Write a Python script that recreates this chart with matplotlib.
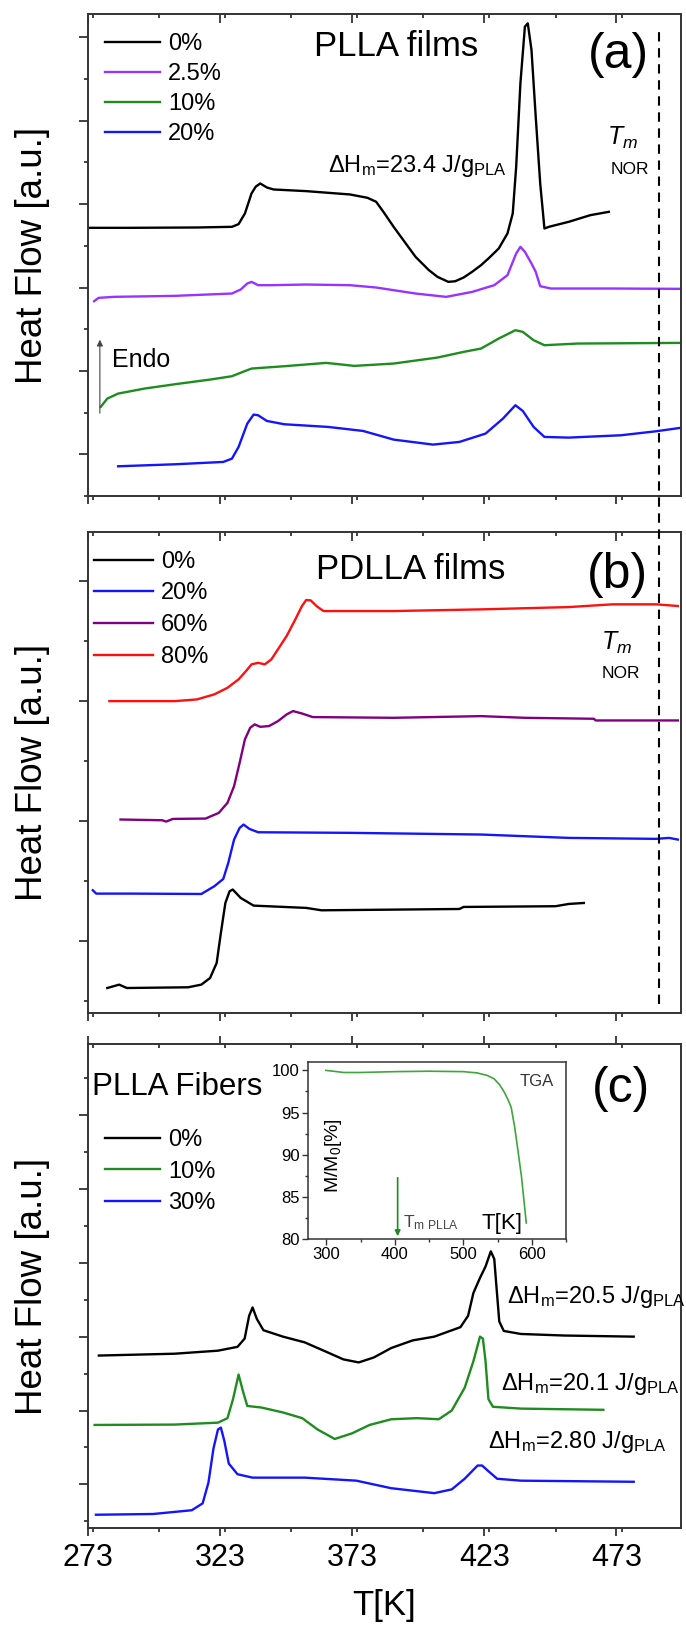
import numpy as np
import matplotlib
matplotlib.use('Agg')
import matplotlib.pyplot as plt
from matplotlib.ticker import MultipleLocator
from matplotlib.lines import Line2D

plt.rcParams['font.family'] = ['Liberation Sans', 'DejaVu Sans']
plt.rcParams['mathtext.fontset'] = 'custom'
plt.rcParams['mathtext.rm'] = 'Liberation Sans'
plt.rcParams['mathtext.it'] = 'Liberation Sans:italic'
plt.rcParams['mathtext.default'] = 'regular'

# ---- (a) PLLA films ----
a0_T = [273.0, 289.4, 314.2, 327.5, 330.0, 332.4, 334.9, 336.5, 338.2, 340.7, 343.2, 355.6, 372.2, 378.8,
        382.1, 385.0, 388.7, 397.0, 402.0, 405.3, 409.4, 412.0, 415.2, 418.5, 421.8, 425.0, 428.5, 431.8,
        433.8, 435.1, 436.7, 438.4, 439.5, 440.9, 442.5, 444.2, 445.8, 447.5, 455.0, 463.2, 470.2]
a0_H = [2.716, 2.716, 2.72, 2.728, 2.76, 2.888, 3.128, 3.21, 3.248, 3.20, 3.176, 3.156, 3.116, 3.076,
        3.028, 2.90, 2.728, 2.368, 2.21, 2.128, 2.068, 2.075, 2.12, 2.19, 2.268, 2.36, 2.468, 2.648,
        2.888, 3.448, 4.448, 5.128, 5.168, 4.848, 4.048, 3.248, 2.708, 2.728, 2.788, 2.868, 2.908]
a25_T = [275.3, 277.0, 282.8, 305.9, 327.5, 330.8, 333.3, 334.9, 337.4, 342.4, 355.6, 372.2, 382.1, 397.0,
         408.6, 418.5, 426.8, 431.8, 435.1, 436.7, 438.4, 440.9, 442.5, 444.2, 448.3, 471.5, 497.7]
a25_H = [1.836, 1.876, 1.888, 1.90, 1.928, 1.976, 2.048, 2.068, 2.028, 2.028, 2.036, 2.028, 2.0, 1.928,
         1.888, 1.948, 2.028, 2.148, 2.408, 2.488, 2.428, 2.288, 2.188, 2.016, 1.988, 1.988, 1.984]
a10_T = [277.8, 280.3, 284.4, 294.4, 305.9, 319.2, 327.5, 331.6, 334.9, 347.3, 363.1, 368.0, 373.8, 388.7,
         405.3, 415.2, 421.8, 428.5, 434.8, 437.6, 441.7, 445.8, 458.3, 497.7]
a10_H = [0.568, 0.668, 0.728, 0.788, 0.84, 0.896, 0.936, 0.988, 1.028, 1.056, 1.096, 1.08, 1.06, 1.088,
         1.16, 1.228, 1.268, 1.388, 1.488, 1.468, 1.368, 1.308, 1.328, 1.336]
a20_T = [284.4, 305.9, 324.2, 327.5, 330.0, 333.3, 335.7, 337.4, 340.7, 347.3, 363.9, 377.1, 388.7, 403.6,
         413.6, 423.5, 430.1, 434.8, 437.6, 441.7, 445.8, 455.0, 474.8, 488.1, 498.0]
a20_H = [-0.144, -0.12, -0.092, -0.052, 0.088, 0.368, 0.476, 0.468, 0.40, 0.36, 0.328, 0.28, 0.176, 0.116,
         0.148, 0.248, 0.428, 0.588, 0.52, 0.328, 0.208, 0.20, 0.228, 0.276, 0.32]

# ---- (b) PDLLA films ----
b0_T = [280.3, 284.8, 287.7, 310.9, 315.9, 319.2, 321.7, 323.3, 325.0, 326.6, 327.8, 330.8, 335.7, 355.6,
        361.4, 413.6, 415.2, 450.0, 455.0, 460.7]
b0_H = [-0.389, -0.361, -0.389, -0.383, -0.361, -0.306, -0.181, 0.069, 0.319, 0.417, 0.431, 0.361, 0.297,
        0.278, 0.258, 0.269, 0.286, 0.292, 0.311, 0.319]
b20_T = [274.8, 276.1, 289.4, 315.9, 320.8, 324.2, 326.1, 328.3, 330.4, 331.9, 334.1, 337.4, 372.2, 421.8,
         455.0, 488.1, 493.0, 496.3]
b20_H = [0.425, 0.397, 0.397, 0.394, 0.458, 0.519, 0.653, 0.847, 0.944, 0.972, 0.936, 0.908, 0.903, 0.889,
         0.861, 0.853, 0.861, 0.847]
b60_T = [285.3, 301.0, 302.6, 305.1, 317.5, 322.5, 325.8, 328.3, 330.4, 332.4, 334.4, 336.1, 338.2, 341.5,
         344.9, 348.2, 350.6, 354.0, 358.1, 388.7, 421.8, 438.4, 464.5, 465.2, 496.3]
b60_H = [1.014, 1.008, 0.997, 1.019, 1.022, 1.069, 1.153, 1.292, 1.486, 1.681, 1.778, 1.806, 1.786, 1.792,
         1.833, 1.889, 1.917, 1.897, 1.867, 1.861, 1.875, 1.861, 1.853, 1.839, 1.839]
b80_T = [281.1, 305.9, 314.2, 320.8, 325.8, 330.0, 332.8, 334.9, 337.4, 339.9, 342.4, 344.9, 348.2, 351.5,
         354.0, 355.6, 357.3, 359.8, 362.2, 388.7, 421.8, 455.0, 471.5, 488.1, 496.3]
b80_H = [2.0, 2.0, 2.014, 2.056, 2.111, 2.181, 2.25, 2.306, 2.319, 2.306, 2.347, 2.431, 2.542, 2.681,
         2.792, 2.842, 2.839, 2.786, 2.75, 2.75, 2.764, 2.783, 2.806, 2.806, 2.792]

# ---- (c) PLLA fibers ----
c0_T = [277.1, 305.8, 322.2, 329.6, 332.3, 334.0, 335.3, 336.9, 339.4, 346.8, 355.0, 363.2, 369.7, 375.5,
        381.2, 387.8, 395.9, 404.1, 414.0, 416.9, 418.9, 421.4, 423.5, 425.5, 426.8, 427.6, 428.7, 430.4,
        436.9, 453.3, 479.6]
c0_H = [1.744, 1.769, 1.81, 1.862, 1.974, 2.282, 2.395, 2.241, 2.087, 2.0, 1.923, 1.795, 1.692, 1.651,
        1.718, 1.846, 1.949, 2.0, 2.128, 2.282, 2.59, 2.795, 2.949, 3.154, 3.051, 2.692, 2.205, 2.077,
        2.036, 2.015, 2.0]
c10_T = [275.5, 305.8, 322.2, 325.8, 327.9, 330.0, 331.7, 333.3, 338.6, 346.8, 354.1, 359.9, 366.4, 373.0,
         379.6, 387.8, 397.6, 405.8, 410.7, 415.6, 418.9, 421.4, 422.5, 423.5, 424.6, 426.3, 436.9, 468.1]
c10_H = [0.805, 0.81, 0.836, 0.897, 1.154, 1.487, 1.256, 1.062, 1.041, 0.974, 0.897, 0.744, 0.615, 0.692,
         0.805, 0.882, 0.897, 0.882, 1.0, 1.308, 1.667, 2.0, 1.974, 1.667, 1.154, 1.051, 1.026, 1.01]
c30_T = [276.0, 297.6, 312.3, 316.4, 318.6, 320.5, 322.2, 323.3, 324.6, 326.3, 329.6, 335.3, 355.0, 374.6,
         387.8, 404.1, 410.7, 415.6, 420.5, 422.2, 424.6, 427.9, 436.9, 479.6]
c30_H = [-0.41, -0.4, -0.349, -0.256, 0.026, 0.487, 0.744, 0.769, 0.59, 0.282, 0.138, 0.092, 0.092, 0.051,
         -0.051, -0.118, -0.067, 0.077, 0.256, 0.256, 0.179, 0.077, 0.051, 0.036]

# TGA inset
tga_T = [299, 310, 325, 350, 400, 450, 500, 520, 535, 545, 553, 560, 566, 570, 575, 580, 585, 592]
tga_M = [100.0, 99.9, 99.75, 99.75, 99.85, 99.9, 99.85, 99.7, 99.4, 99.0, 98.3, 97.4, 96.4, 95.6, 93.3,
         90.4, 87.4, 81.9]
tm_pla = 404
tm_nor = 489

x_ticks = [273, 323, 373, 423, 473]

fig = plt.figure(figsize=(6.86, 16.32), dpi=100)
L, W = 0.1283, 0.8644
ax_a = fig.add_axes([L, 0.6961, W, 0.2953])
ax_b = fig.add_axes([L, 0.3793, W, 0.2947])
ax_c = fig.add_axes([L, 0.0637, W, 0.2966])

lw = 1.7
ax_a.plot(a0_T, a0_H, color='black', lw=lw, label='0%')
ax_a.plot(a25_T, a25_H, color='#9933FF', lw=lw, label='2.5%')
ax_a.plot(a10_T, a10_H, color='#1E8C1E', lw=lw, label='10%')
ax_a.plot(a20_T, a20_H, color='#1414FF', lw=lw, label='20%')
ax_a.set_ylim(-0.5, 5.28)

ax_b.plot(b0_T, b0_H, color='black', lw=lw, label='0%')
ax_b.plot(b20_T, b20_H, color='#1414FF', lw=lw, label='20%')
ax_b.plot(b60_T, b60_H, color='#800080', lw=lw, label='60%')
ax_b.plot(b80_T, b80_H, color='#FF1010', lw=lw, label='80%')
ax_b.set_ylim(-0.597, 3.408)

ax_c.plot(c0_T, c0_H, color='black', lw=lw, label='0%')
ax_c.plot(c10_T, c10_H, color='#1E8C1E', lw=lw, label='10%')
ax_c.plot(c30_T, c30_H, color='#1414FF', lw=lw, label='30%')
ax_c.set_ylim(-0.59, 5.96)

for ax in (ax_a, ax_b, ax_c):
    ax.set_xlim(273, 497.5)
    ax.set_xticks(x_ticks)
    ax.xaxis.set_minor_locator(MultipleLocator(25))
    ax.yaxis.set_major_locator(MultipleLocator(1))
    ax.yaxis.set_minor_locator(MultipleLocator(0.5))
    ax.set_yticklabels([])
    ax.tick_params(axis='x', which='major', direction='out', length=6.0, width=1.2, color='#222')
    ax.tick_params(axis='x', which='minor', direction='out', length=3.0, width=1.2, color='#222')
    ax.tick_params(axis='y', which='major', direction='out', length=6.5, width=1.2, color='#222')
    ax.tick_params(axis='y', which='minor', direction='out', length=3.2, width=1.2, color='#222')
    ax.tick_params(top=True, which='both')
    for s in ax.spines.values():
        s.set_linewidth(1.4)
        s.set_color('#333')
    ax.set_ylabel('Heat Flow [a.u.]', fontsize=26.5)
    ax.yaxis.set_label_coords(-0.064, 0.5)
    # top ticks point inward
    for t in ax.xaxis.get_major_ticks():
        t.tick2line.set_marker(3)
        t.tick2line.set_markersize(6.5)
    for t in ax.xaxis.get_minor_ticks():
        t.tick2line.set_marker(3)
        t.tick2line.set_markersize(3.2)

ax_a.set_xticklabels([])
ax_b.set_xticklabels([])
ax_c.set_xticklabels([str(t) for t in x_ticks], fontsize=22)
ax_c.tick_params(axis='x', pad=5)
ax_c.set_xlabel('T[K]', fontsize=25)
ax_c.xaxis.set_label_coords(0.5, -0.125)

leg_kw = dict(loc='upper left', frameon=False, fontsize=17, borderpad=0, borderaxespad=0,
              handletextpad=0.35)
ax_a.legend(bbox_to_anchor=(0.028, 0.960), handlelength=2.35, labelspacing=0.34, **leg_kw)
ax_b.legend(bbox_to_anchor=(0.010, 0.961), handlelength=2.5, labelspacing=0.41, **leg_kw)
ax_c.legend(bbox_to_anchor=(0.028, 0.824), handlelength=2.35, labelspacing=0.40, **leg_kw)

# panel labels and titles
ax_a.text(0.519, 0.933, 'PLLA films', transform=ax_a.transAxes, fontsize=25, ha='center', va='center')
ax_a.text(0.895, 0.915, '(a)', transform=ax_a.transAxes, fontsize=36, ha='center', va='center')
ax_a.text(0.405, 0.685, r'$\Delta$H$_m$=23.4 J/g$_{PLA}$', transform=ax_a.transAxes, fontsize=17,
          ha='left', va='center')
ax_a.text(0.902, 0.744, r'$\mathit{T}_{\mathit{m}}$', transform=ax_a.transAxes, fontsize=18,
          ha='center', va='center')
ax_a.text(0.914, 0.678, 'NOR', transform=ax_a.transAxes, fontsize=12.5, ha='center', va='center')
ax_a.text(0.040, 0.283, 'Endo', transform=ax_a.transAxes, fontsize=18, ha='left', va='center')
ax_a.annotate('', xy=(0.020, 0.330), xytext=(0.020, 0.166), xycoords='axes fraction',
              arrowprops=dict(arrowstyle='-|>', color='#444', lw=0.8, mutation_scale=9))

ax_b.text(0.545, 0.922, 'PDLLA films', transform=ax_b.transAxes, fontsize=25, ha='center', va='center')
ax_b.text(0.892, 0.911, '(b)', transform=ax_b.transAxes, fontsize=36, ha='center', va='center')
ax_b.text(0.892, 0.770, r'$\mathit{T}_{\mathit{m}}$', transform=ax_b.transAxes, fontsize=18,
          ha='center', va='center')
ax_b.text(0.899, 0.705, 'NOR', transform=ax_b.transAxes, fontsize=12.5, ha='center', va='center')

ax_c.text(0.007, 0.911, 'PLLA Fibers', transform=ax_c.transAxes, fontsize=22.5, ha='left', va='center')
ax_c.text(0.899, 0.907, '(c)', transform=ax_c.transAxes, fontsize=36, ha='center', va='center')
ax_c.text(0.707, 0.477, r'$\Delta$H$_m$=20.5 J/g$_{PLA}$', transform=ax_c.transAxes, fontsize=17,
          ha='left', va='center')
ax_c.text(0.696, 0.298, r'$\Delta$H$_m$=20.1 J/g$_{PLA}$', transform=ax_c.transAxes, fontsize=17,
          ha='left', va='center')
ax_c.text(0.674, 0.178, r'$\Delta$H$_m$=2.80 J/g$_{PLA}$', transform=ax_c.transAxes, fontsize=17,
          ha='left', va='center')

# dashed T_m of NOR across panels (a) and (b)
inv = fig.transFigure.inverted()
x_fig, y_top = inv.transform(ax_a.transData.transform((tm_nor, 5.1)))
_, y_bot = inv.transform(ax_b.transData.transform((tm_nor, -0.52)))
fig.add_artist(Line2D([x_fig, x_fig], [y_bot, y_top], color='black', lw=1.5,
                      linestyle=(0, (4.5, 3.2)), transform=fig.transFigure))

# TGA inset
ins = fig.add_axes([0.449, 0.2408, 0.376, 0.1085])
ins.plot(tga_T, tga_M, color='#3DA63D', lw=1.2)
ins.set_xlim(273, 650)
ins.set_ylim(80, 101)
ins.xaxis.set_major_locator(MultipleLocator(100))
ins.xaxis.set_minor_locator(MultipleLocator(50))
ins.yaxis.set_major_locator(MultipleLocator(5))
ins.yaxis.set_minor_locator(MultipleLocator(2.5))
ins.tick_params(which='major', direction='out', length=4, width=1, labelsize=12, pad=2, color='#333')
ins.tick_params(which='minor', direction='out', length=2, width=1, color='#333')
for s in ins.spines.values():
    s.set_linewidth(1.1)
    s.set_color('#333')
ins.text(0.097, 0.47, 'M/M$_0$[%]', transform=ins.transAxes, rotation=90, fontsize=14,
         ha='center', va='center')
ins.text(0.753, 0.09, 'T[K]', transform=ins.transAxes, fontsize=16, ha='center', va='center')
ins.text(0.888, 0.89, 'TGA', transform=ins.transAxes, fontsize=12, ha='center', va='center', color='#333')
ins.text(0.367, 0.09, r'T$_{m\ PLLA}$', transform=ins.transAxes, fontsize=12.5, ha='left', va='center',
         color='#444')
ins.annotate('', xy=(tm_pla, 80.0), xytext=(tm_pla, 87.6),
             arrowprops=dict(arrowstyle='-|>', color='#1E8C1E', lw=1.2, mutation_scale=8))

fig.savefig('out.png', dpi=100)
